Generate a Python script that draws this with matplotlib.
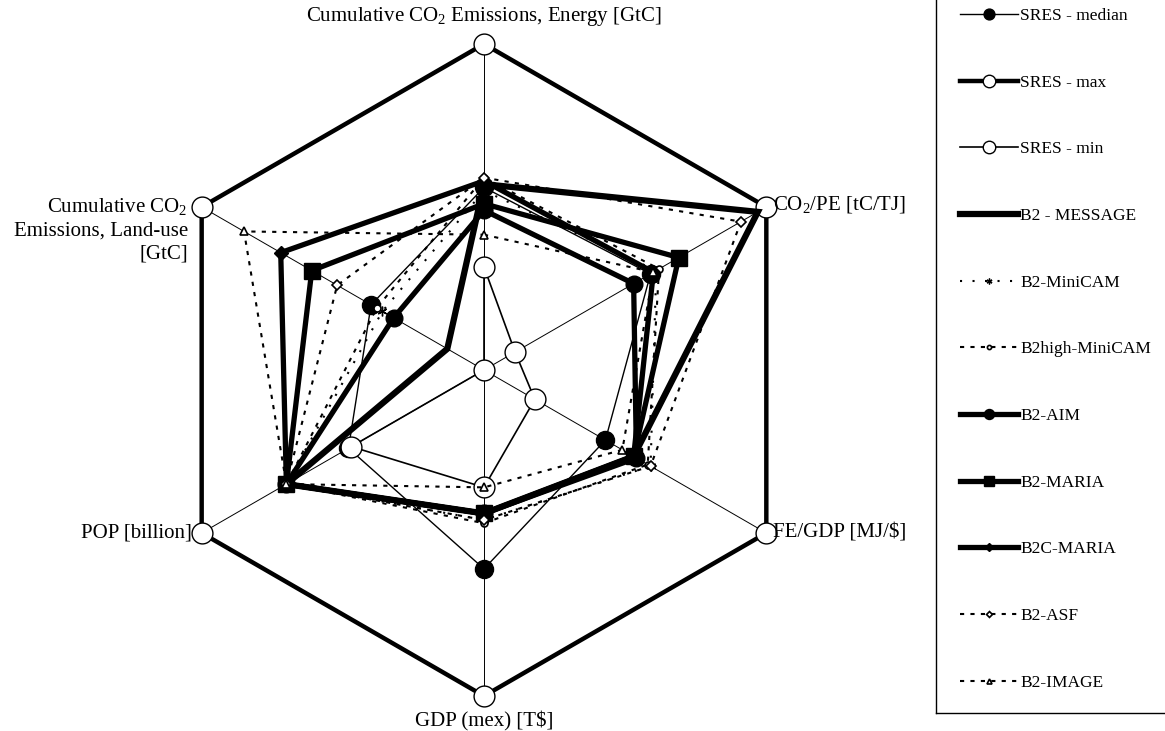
import numpy as np
import matplotlib
matplotlib.use('Agg')
import matplotlib.pyplot as plt
from matplotlib.lines import Line2D

# axis order (clockwise from top)
axis_labels = ['Cumulative CO$_2$ Emissions, Energy [GtC]',
               'CO$_2$/PE [tC/TJ]',
               'FE/GDP [MJ/$]',
               'GDP (mex) [T$]',
               'POP [billion]',
               'Cumulative CO$_2$\nEmissions, Land-use\n[GtC]']

# normalised values (0 = centre, 1 = SRES max)
sres_median    = [0.56, 0.59, 0.43, 0.61, 0.48, 0.40]
sres_max       = [1.00, 1.00, 1.00, 1.00, 1.00, 1.00]
sres_min       = [0.316, 0.11, 0.18, 0.36, 0.47, 0.00]
b2_message     = [0.57, 0.97, 0.53, 0.44, 0.70, 0.13]
b2_minicam     = [0.55, 0.61, 0.59, 0.46, 0.70, 0.36]
b2high_minicam = [0.59, 0.62, 0.58, 0.47, 0.70, 0.38]
b2_aim         = [0.49, 0.53, 0.54, 0.44, 0.70, 0.32]
b2_maria       = [0.51, 0.69, 0.53, 0.44, 0.70, 0.61]
b2c_maria      = [0.58, 0.60, 0.53, 0.44, 0.70, 0.72]
b2_asf         = [0.59, 0.91, 0.59, 0.46, 0.70, 0.52]
b2_image       = [0.415, 0.60, 0.49, 0.36, 0.70, 0.85]

series_names = ['SRES - median', 'SRES - max', 'SRES - min', 'B2 - MESSAGE',
                'B2-MiniCAM', 'B2high-MiniCAM', 'B2-AIM', 'B2-MARIA',
                'B2C-MARIA', 'B2-ASF', 'B2-IMAGE']

plt.rcParams['font.family'] = ['Liberation Serif', 'DejaVu Serif']
plt.rcParams['mathtext.default'] = 'regular'

W, H = 1165, 731
fig = plt.figure(figsize=(W / 100, H / 100), dpi=100)
cx, cy, R = 484, 370, 326
ax = fig.add_axes([(cx - R) / W, (H - cy - R) / H, 2 * R / W, 2 * R / H],
                  projection='polar')
ax.set_theta_zero_location('N')
ax.set_theta_direction(-1)
theta = np.deg2rad(np.arange(6) * 60.0)
ax.set_xticks(theta)
ax.set_xticklabels([])
ax.set_yticks([])
ax.set_ylim(0, 1)
ax.spines['polar'].set_visible(False)
ax.tick_params(length=0)
ax.xaxis.grid(True, color='black', lw=0.7)
ax.set_facecolor('none')

styles = [
    dict(color='black', lw=1.0, marker='o', ms=13, mfc='black', mec='black'),
    dict(color='black', lw=3.2, marker='o', ms=15, mfc='white', mec='black', mew=1.0),
    dict(color='black', lw=1.2, marker='o', ms=15, mfc='white', mec='black', mew=1.0),
    dict(color='black', lw=4.5),
    dict(color='black', lw=1.5, ls=(0, (1, 5)), marker=(6, 2, 0), ms=7, mew=1.0),
    dict(color='black', lw=1.5, ls=(0, (2, 3)), marker='o', ms=5, mfc='white', mec='black', mew=1.2),
    dict(color='black', lw=3.8, marker='o', ms=12),
    dict(color='black', lw=3.8, marker='s', ms=12),
    dict(color='black', lw=3.8, marker='D', ms=7),
    dict(color='black', lw=1.5, ls=(0, (2, 3)), marker='D', ms=5, mfc='white', mec='black', mew=1.2),
    dict(color='black', lw=1.5, ls=(0, (2, 3)), marker='^', ms=6, mfc='white', mec='black', mew=1.2),
]
all_series = [sres_median, sres_max, sres_min, b2_message, b2_minicam,
              b2high_minicam, b2_aim, b2_maria, b2c_maria, b2_asf, b2_image]

handles = []
th_closed = np.concatenate([theta, theta[:1]])
for vals, name, st in zip(all_series, series_names, styles):
    v = np.asarray(vals, dtype=float)
    v_closed = np.concatenate([v, v[:1]])
    (ln,) = ax.plot(th_closed, v_closed, label=name, clip_on=False,
                    solid_joinstyle='miter', **st)
    ln.set_markevery(list(range(6)))
    handles.append(ln)

# axis labels
fs = 15
ax.annotate(axis_labels[0], xy=(theta[0], 1), xytext=(0, 20), textcoords='offset points',
            ha='center', va='center', fontsize=fs, annotation_clip=False)
ax.annotate(axis_labels[1], xy=(theta[1], 1), xytext=(5, 2), textcoords='offset points',
            ha='left', va='center', fontsize=fs, annotation_clip=False)
ax.annotate(axis_labels[2], xy=(theta[2], 1), xytext=(5, 0), textcoords='offset points',
            ha='left', va='center', fontsize=fs, annotation_clip=False)
ax.annotate(axis_labels[3], xy=(theta[3], 1), xytext=(0, -18), textcoords='offset points',
            ha='center', va='center', fontsize=fs, annotation_clip=False)
ax.annotate(axis_labels[4], xy=(theta[4], 1), xytext=(-7, 0), textcoords='offset points',
            ha='right', va='center', fontsize=fs, annotation_clip=False)
ax.annotate(axis_labels[5], xy=(theta[5], 1), xytext=(-10, 8), textcoords='offset points',
            ha='right', va='top', multialignment='right', linespacing=1.3,
            fontsize=fs, annotation_clip=False)

leg = fig.legend(handles=handles, labels=series_names, loc='lower left',
                 bbox_to_anchor=(936 / W, 16 / H), bbox_transform=fig.transFigure,
                 frameon=False, borderpad=1.4, labelspacing=2.91, handlelength=3.3,
                 handletextpad=0.15, borderaxespad=0, numpoints=1,
                 markerscale=0.6, fontsize=12.5)

# legend box: only its left and bottom edges fall inside the picture
fig.add_artist(Line2D([936 / W, 936 / W], [18 / H, 1.0], transform=fig.transFigure,
                      color='black', lw=1.0))
fig.add_artist(Line2D([936 / W, 1.0], [18 / H, 18 / H], transform=fig.transFigure,
                      color='black', lw=1.0))

fig.savefig('out.png', dpi=100)
